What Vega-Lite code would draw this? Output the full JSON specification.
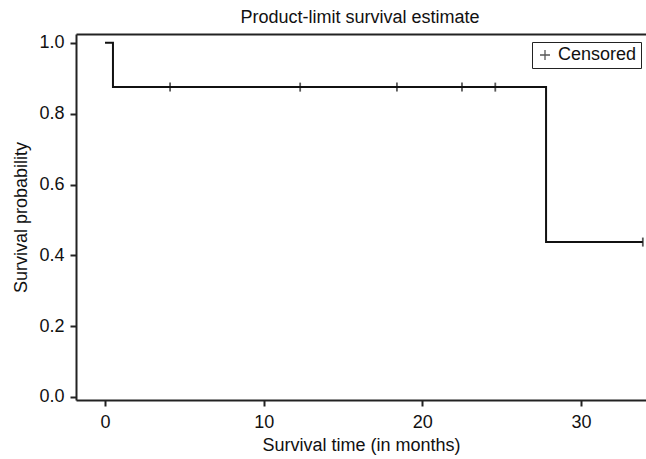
{
  "$schema": "https://vega.github.io/schema/vega-lite/v6.json",
  "autosize": "none",
  "width": 570,
  "height": 366,
  "padding": {"left": 76, "top": 34, "right": 0, "bottom": 59},
  "background": "white",
  "title": {"text": "Product-limit survival estimate", "fontSize": 18, "fontWeight": "normal", "font": "Liberation Sans", "color": "#111", "offset": 7, "anchor": "middle", "dx": -1},
  "config": {
    "view": {"stroke": "transparent", "strokeWidth": 0},
    "font": "Liberation Sans",
    "axis": {"domain": true, "domainColor": "#222", "domainWidth": 2, "tickColor": "#222", "tickWidth": 2, "tickSize": 6, "labelFontSize": 18, "labelColor": "#111", "titleFontSize": 18, "titleColor": "#111", "titleFontWeight": "normal", "grid": false, "labelFont": "Liberation Sans", "titleFont": "Liberation Sans"}
  },
  "datasets": {
    "curve": [
      {"time": 0, "surv": 1.0},
      {"time": 0.5, "surv": 0.875},
      {"time": 27.8, "surv": 0.4375},
      {"time": 33.9, "surv": 0.4375}
    ],
    "censor": [
      {"time": 4.1, "surv": 0.875},
      {"time": 12.3, "surv": 0.875},
      {"time": 18.4, "surv": 0.875},
      {"time": 22.5, "surv": 0.875},
      {"time": 24.6, "surv": 0.875},
      {"time": 33.9, "surv": 0.4375}
    ]
  },
  "resolve": {"axis": {"x": "independent", "y": "independent"}},
  "layer": [
    {"data": {"name": "curve"}, "mark": {"type": "line", "interpolate": "step-after", "color": "#111", "strokeWidth": 2},
     "encoding": {
       "x": {"field": "time", "type": "quantitative", "scale": {"domain": [-1.83, 34.1], "nice": false, "zero": false}, "axis": {"values": [0, 10, 20, 30], "title": "Survival time (in months)", "labelPadding": 7, "titlePadding": 5}},
       "y": {"field": "surv", "type": "quantitative", "scale": {"domain": [-0.0085, 1.025], "nice": false, "zero": false}, "axis": {"orient": "left", "values": [0, 0.2, 0.4, 0.6, 0.8, 1.0], "format": ".1f", "title": "Survival probability", "labelPadding": 6, "titlePadding": 8}}
     }},
    {"data": {"name": "censor"}, "mark": {"type": "tick", "orient": "vertical", "size": 9, "thickness": 1.8, "color": "#111"},
     "encoding": {
       "x": {"field": "time", "type": "quantitative", "axis": {"orient": "top", "labels": false, "ticks": false, "title": null}},
       "y": {"field": "surv", "type": "quantitative", "axis": null},
       "color": {"datum": "Censored", "scale": {"range": ["#111"]}, "legend": {"title": null, "orient": "none", "legendX": 456, "legendY": 8, "strokeColor": "#222", "fillColor": "white", "padding": 4, "labelFontSize": 18, "labelColor": "#111", "labelFont": "Liberation Sans", "labelOffset": 4, "symbolType": "M-1,0L1,0M0,-1L0,1", "symbolStrokeColor": "#111", "symbolFillColor": "transparent", "symbolStrokeWidth": 1.3, "symbolSize": 100}}}}
  ]
}
